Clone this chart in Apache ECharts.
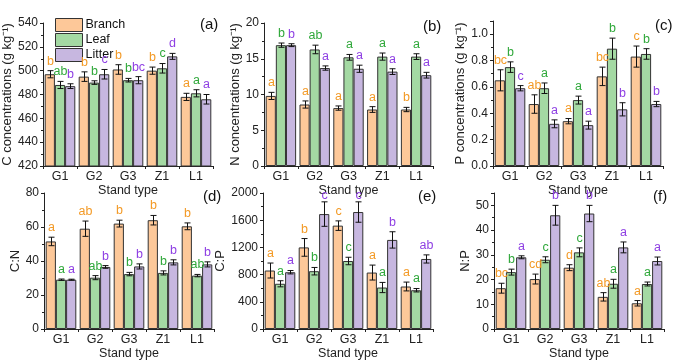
<!DOCTYPE html>
<html><head><meta charset="utf-8">
<script src="https://cdn.jsdelivr.net/npm/echarts@6/dist/echarts.min.js"></script>
<style>html,body{margin:0;padding:0;background:#fff}#c{width:700px;height:362px}</style>
</head><body><div id="c"></div>
<script>
const categories = ['G1','G2','G3','Z1','L1'];
const seriesNames = ['Branch','Leaf','Litter'];

// (a) C concentrations: rows = Branch, Leaf, Litter
const cMean = [[497,495,501,500,478],[488,490,492,502,481],[487,497,492,512,476]];
const cErr  = [[3,4,4,3,3],[3,1.5,1.5,4,3],[2,4,3,2.5,4]];
const cSig  = [['b','b','b','b','a'],['ab','b','b','c','a'],['b','c','bc','d','a']];

// (b) N concentrations
const nMean = [[9.8,8.6,8.1,7.9,7.9],[16.9,16.3,15.2,15.3,15.3],[16.9,13.7,13.6,13.2,12.7]];
const nErr  = [[0.5,0.5,0.3,0.4,0.3],[0.3,0.6,0.4,0.5,0.4],[0.2,0.3,0.5,0.4,0.4]];
const nSig  = [['a','a','a','a','b'],['b','ab','a','a','a'],['b','a','a','a','a']];

// (c) P concentrations
const pMean = [[0.65,0.47,0.34,0.68,0.83],[0.75,0.59,0.50,0.89,0.85],[0.59,0.32,0.31,0.43,0.47]];
const pErr  = [[0.08,0.07,0.02,0.07,0.08],[0.04,0.04,0.03,0.08,0.04],[0.02,0.03,0.03,0.05,0.02]];
const pSig  = [['bc','ab','a','bc','c'],['b','a','a','b','b'],['c','a','a','b','b']];

// (d) C:N
const cnMean = [[51.5,59,62,64,60.4],[29,30.2,32.3,33,31.4],[29,36.5,36.8,39.2,38]];
const cnErr  = [[2.5,4.5,2,2.8,2],[0.4,1.2,1,1.2,0.7],[0.3,0.8,1.5,1.5,1.5]];
const cnSig  = [['a','ab','b','b','b'],['a','ab','b','b','ab'],['a','b','b','b','b']];

// (e) C:P
const cpMean = [[860,1200,1520,830,625],[665,850,1000,610,570],[835,1690,1720,1310,1030]];
const cpErr  = [[110,130,70,110,65],[45,55,55,75,25],[25,180,150,120,60]];
const cpSig  = [['a','b','c','a','a'],['a','b','c','a','a'],['a','c','c','b','ab']];

// (f) N:P
const npMean = [[16.5,20.2,24.8,13,10.4],[23,28,31,18.3,18.2],[29,46,46.7,33,27.5]];
const npErr  = [[2,2,1.2,1.7,1.1],[1.2,1.2,1.8,1.8,0.8],[0.6,4,3.3,2.2,1.6]];
const npSig  = [['bc','cd','d','ab','a'],['b','c','c','a','a'],['a','b','b','a','a']];

// y-axis tick settings
const yMin = [420, 0, 0, 0, 0, 0];
const yMax = [540, 20, 1.1, 80, 2000, 55];
const yStep = [20, 5, 0.2, 20, 400, 10];
const yNames = ['C concentrations (g kg\u207B\u00B9)', 'N concentrations (g kg\u207B\u00B9)', 'P concentrations (g kg\u207B\u00B9)', 'C:N', 'C:P', 'N:P'];
const tags = ['(a)','(b)','(c)','(d)','(e)','(f)'];

const means = [cMean, nMean, pMean, cnMean, cpMean, npMean];
const errs  = [cErr, nErr, pErr, cnErr, cpErr, npErr];
const sigs  = [cSig, nSig, pSig, cnSig, cpSig, npSig];

// layout (pixels)
const grids = [
  {left:43, top:23, width:170, height:143},
  {left:264, top:23, width:169, height:143},
  {left:493, top:21, width:170, height:145},
  {left:44, top:193, width:170, height:136},
  {left:263, top:193, width:170, height:136},
  {left:494, top:193, width:170, height:136}
];
const nameGaps = [27, 13, 20, 22, 28, 21];
const tagPos = [[200,17],[423,19],[655,18],[203,189],[418,189],[653,189]];

const barColors = ['#FDC899','#A4D9A3','#C7B7E0'];
const letterColors = ['#F39A26','#2FA83A','#8E3FE3'];
const FONT = '"Liberation Sans", Arial, sans-serif';
const GAP = 0.1;

const chart = echarts.init(document.getElementById('c'), null, {renderer:'canvas'});

const xAxis = [], yAxis = [], series = [], graphic = [];
grids.forEach((g, i) => {
  xAxis.push({
    type:'category', gridIndex:i, data:categories,
    name:'Stand type', nameLocation:'middle', nameGap:18,
    nameTextStyle:{fontFamily:FONT, fontSize:12.5, color:'#222'},
    axisLine:{lineStyle:{color:'#222', width:1}},
    axisTick:{show:true, length:3, inside:false, lineStyle:{color:'#222'}},
    axisLabel:{fontFamily:FONT, fontSize:12.5, color:'#222', margin:4},
    splitLine:{show:false}
  });
  yAxis.push({
    type:'value', gridIndex:i, min:yMin[i], max:yMax[i], interval:yStep[i],
    name:yNames[i], nameLocation:'middle', nameGap:nameGaps[i],
    nameTextStyle:{fontFamily:FONT, fontSize:13, color:'#222'},
    axisLine:{show:true, lineStyle:{color:'#222', width:1}},
    axisTick:{show:true, length:3, lineStyle:{color:'#222'}},
    minorTick:{show:true, splitNumber:2, length:2, lineStyle:{color:'#222'}},
    axisLabel:{fontFamily:FONT, fontSize:12, color:'#222', margin:5, showMaxLabel: (i===2||i===5)?false:true,
      formatter: (v) => i===2 ? v.toFixed(1) : String(v)},
    splitLine:{show:false}
  });
  for (let s = 0; s < 3; s++) {
    series.push({
      type:'bar', name:seriesNames[s], xAxisIndex:i, yAxisIndex:i,
      data:means[i][s], barGap:'0%', barCategoryGap:(GAP*100)+'%',
      itemStyle:{color:barColors[s], borderColor:'#333', borderWidth:1},
      emphasis:{disabled:true}, silent:true
    });
  }
  const data = [];
  for (let s = 0; s < 3; s++) for (let c = 0; c < 5; c++) data.push([c, means[i][s][c], errs[i][s][c], s]);
  const sig = sigs[i];
  const minBottom = g.top + 9;
  series.push({
    type:'custom', xAxisIndex:i, yAxisIndex:i, data:data, encode:{x:0, y:1}, clip:false, silent:true, z:10,
    renderItem:function(params, api){
      const c = api.value(0), v = api.value(1), e = api.value(2), s = api.value(3);
      const p = api.coord([c, v]);
      const bw = api.size([1, 0])[0];
      const barW = bw * (1 - GAP) / 3;
      const x = Math.round(p[0] + (s - 1) * barW) + 0.5;
      const yt = api.coord([c, v + e])[1], yb = api.coord([c, v - e])[1];
      const cap = 3;
      const st = {stroke:'#111', lineWidth:1};
      const ly = Math.max(yt - 3, minBottom);
      return {type:'group', children:[
        {type:'line', shape:{x1:x, y1:yt, x2:x, y2:yb}, style:st},
        {type:'line', shape:{x1:x-cap, y1:yt, x2:x+cap, y2:yt}, style:st},
        {type:'line', shape:{x1:x-cap, y1:yb, x2:x+cap, y2:yb}, style:st},
        {type:'text', x:x, y:ly, style:{text:sig[s][c], fill:letterColors[s], font:'12.5px ' + FONT, align:'center', verticalAlign:'bottom'}}
      ]};
    }
  });
  graphic.push({type:'text', left:tagPos[i][0], top:tagPos[i][1], style:{text:tags[i], font:'15px ' + FONT, fill:'#111'}});
});

chart.setOption({
  animation:false,
  backgroundColor:'#fff',
  grid: grids.map(g => Object.assign({containLabel:false}, g)),
  xAxis, yAxis, series, graphic,
  legend:{
    data:seriesNames, orient:'vertical', left:50, top:13, itemWidth:27, itemHeight:13, itemGap:1,
    selectedMode:false, icon:'rect',
    itemStyle:{borderColor:'#333', borderWidth:1},
    textStyle:{fontFamily:FONT, fontSize:12.5, color:'#111', padding:[0,0,0,-2]}
  }
});
</script>
</body></html>
